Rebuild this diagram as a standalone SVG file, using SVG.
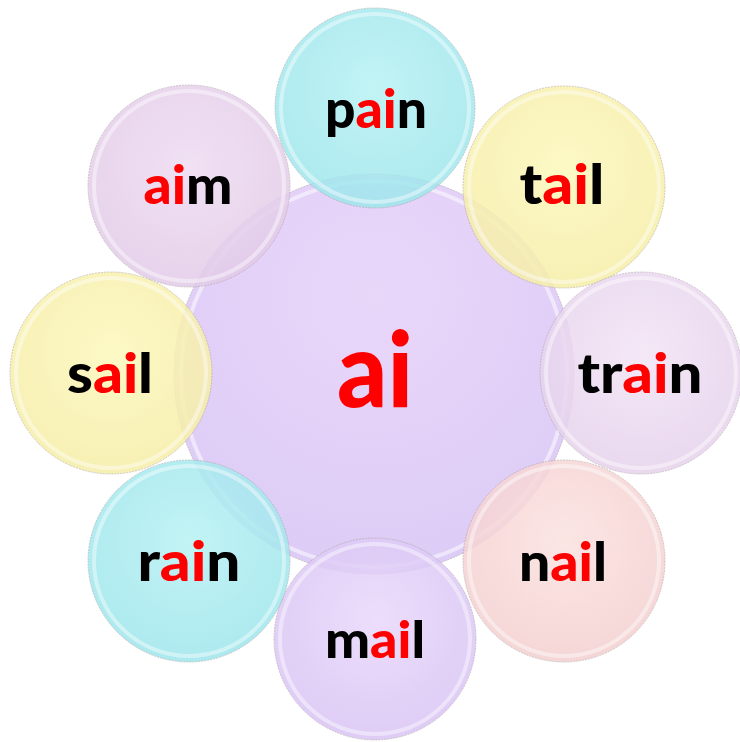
<svg xmlns="http://www.w3.org/2000/svg" width="740" height="742" viewBox="0 0 740 742">
<style>
.bub{stroke:#a89c9c;stroke-width:1;stroke-opacity:0.6;stroke-dasharray:2 1}
.rim{fill:none;stroke:#ffffff;stroke-width:4;stroke-opacity:0.5}
.w{font-family:"Lato","Noto Sans",sans-serif;font-weight:900;font-size:56px;text-anchor:middle;fill:#000}
.r{fill:#ff0000}
.sat circle{opacity:0.85}
</style>
<defs>
<radialGradient id="gc" cx="50%" cy="40%" r="60%"><stop offset="0" stop-color="#b8f2f4"/><stop offset="1" stop-color="#9ee6ec"/></radialGradient>
<radialGradient id="gy" cx="50%" cy="40%" r="60%"><stop offset="0" stop-color="#fdf8bc"/><stop offset="1" stop-color="#f6eea8"/></radialGradient>
<radialGradient id="gl" cx="50%" cy="40%" r="60%"><stop offset="0" stop-color="#e9d8fb"/><stop offset="1" stop-color="#d9c4f4"/></radialGradient>
<radialGradient id="gp" cx="50%" cy="40%" r="60%"><stop offset="0" stop-color="#f3e4f6"/><stop offset="1" stop-color="#e6d2ec"/></radialGradient>
<radialGradient id="gk" cx="50%" cy="40%" r="60%"><stop offset="0" stop-color="#fbe2e0"/><stop offset="1" stop-color="#f4d0d0"/></radialGradient>
<radialGradient id="ga" cx="50%" cy="40%" r="60%"><stop offset="0" stop-color="#efdcf2"/><stop offset="1" stop-color="#e2cbe8"/></radialGradient>
<radialGradient id="gm" cx="50%" cy="30%" r="70%"><stop offset="0" stop-color="#e8d4fa"/><stop offset="1" stop-color="#dac8f6"/></radialGradient>
</defs>
<g id="center">
<circle class="bub" cx="374" cy="374" r="200" fill="url(#gm)" opacity="0.92"/>
<circle class="rim" cx="374" cy="374" r="193"/>
<text class="w" x="375" y="407" style="font-size:104px" textLength="76" lengthAdjust="spacingAndGlyphs"><tspan class="r">ai</tspan></text>
</g>
<g id="pain" class="sat">
<circle class="bub" cx="375" cy="108" r="100" fill="url(#gc)"/>
<circle class="rim" cx="375" cy="108" r="94"/>
<text class="w" x="376" y="128" style="font-size:53px" textLength="102" lengthAdjust="spacingAndGlyphs">p<tspan class="r">ai</tspan>n</text>
</g>
<g id="tail" class="sat">
<circle class="bub" cx="564" cy="187" r="101" fill="url(#gy)"/>
<circle class="rim" cx="564" cy="187" r="95"/>
<text class="w" x="562" y="204" textLength="85" lengthAdjust="spacingAndGlyphs">t<tspan class="r">ai</tspan>l</text>
</g>
<g id="train" class="sat">
<circle class="bub" cx="641" cy="373" r="101" fill="url(#gp)"/>
<circle class="rim" cx="641" cy="373" r="95"/>
<text class="w" x="640" y="393" textLength="125" lengthAdjust="spacingAndGlyphs">tr<tspan class="r">ai</tspan>n</text>
</g>
<g id="nail" class="sat">
<circle class="bub" cx="564" cy="561" r="101" fill="url(#gk)"/>
<circle class="rim" cx="564" cy="561" r="95"/>
<text class="w" x="563" y="581" style="font-size:54px" textLength="88" lengthAdjust="spacingAndGlyphs">n<tspan class="r">ai</tspan>l</text>
</g>
<g id="mail" class="sat">
<circle class="bub" cx="375" cy="639" r="101" fill="url(#gl)"/>
<circle class="rim" cx="375" cy="639" r="95"/>
<text class="w" x="375" y="658" style="font-size:52px" textLength="100" lengthAdjust="spacingAndGlyphs">m<tspan class="r">ai</tspan>l</text>
</g>
<g id="rain" class="sat">
<circle class="bub" cx="189" cy="561" r="101" fill="url(#gc)"/>
<circle class="rim" cx="189" cy="561" r="95"/>
<text class="w" x="189" y="581" textLength="103" lengthAdjust="spacingAndGlyphs">r<tspan class="r">ai</tspan>n</text>
</g>
<g id="sail" class="sat">
<circle class="bub" cx="111" cy="373" r="101" fill="url(#gy)"/>
<circle class="rim" cx="111" cy="373" r="95"/>
<text class="w" x="110" y="393" textLength="86" lengthAdjust="spacingAndGlyphs">s<tspan class="r">ai</tspan>l</text>
</g>
<g id="aim" class="sat">
<circle class="bub" cx="189" cy="186" r="101" fill="url(#ga)"/>
<circle class="rim" cx="189" cy="186" r="95"/>
<text class="w" x="188" y="204" style="font-size:54px" textLength="89" lengthAdjust="spacingAndGlyphs"><tspan class="r">ai</tspan>m</text>
</g>
<g id="connectors"/>
</svg>
